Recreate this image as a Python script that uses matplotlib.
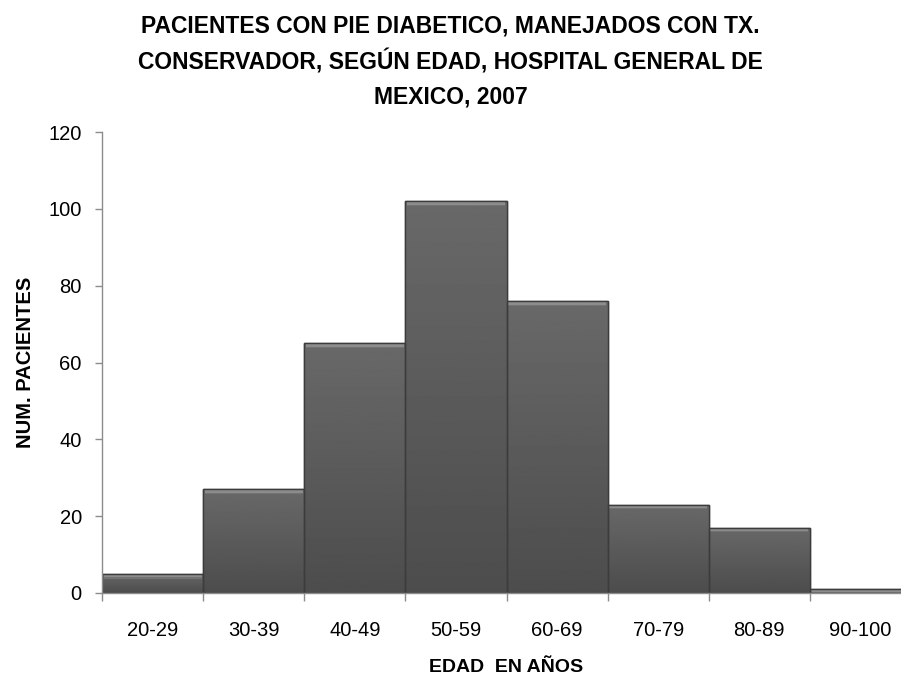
import numpy as np
import matplotlib
matplotlib.use("Agg")
import matplotlib.pyplot as plt
from matplotlib import font_manager

categories = ["20-29", "30-39", "40-49", "50-59", "60-69", "70-79", "80-89", "90-100"]
pacientes = [5, 27, 65, 102, 76, 23, 17, 1]
yticks = [0, 20, 40, 60, 80, 100, 120]

title = ("PACIENTES CON PIE DIABETICO, MANEJADOS CON TX.\n"
         "CONSERVADOR, SEGÚN EDAD, HOSPITAL GENERAL DE\n"
         "MEXICO, 2007")

names = {f.name for f in font_manager.fontManager.ttflist}
base = "Liberation Sans" if "Liberation Sans" in names else "DejaVu Sans"
plt.rcParams["font.family"] = [base, "DejaVu Sans"]

fig = plt.figure(figsize=(9.01, 6.81), dpi=100)
ax = fig.add_axes([102 / 901, 88 / 681, 809 / 901, 461 / 681])

x = np.arange(len(categories))
bars = ax.bar(x, pacientes, width=1.0, color="#5c5c5c", edgecolor="#3c3c3c",
              linewidth=1.0, zorder=2)

# vertical shading inside each bar (lighter at top, darker at bottom)
grad = np.linspace(0.41, 0.30, 256).reshape(-1, 1)
for b, v in zip(bars, pacientes):
    im = ax.imshow(grad, cmap="gray", vmin=0, vmax=1, aspect="auto",
                   extent=[b.get_x(), b.get_x() + b.get_width(), 0, v],
                   origin="upper", zorder=2.1)
    im.set_clip_path(b)

# bevelled highlight along the top of each bar
px = 120 / 461.0
for xi, v in zip(x, pacientes):
    h = min(3.0 * px, v * 0.6)
    ax.bar(xi, h, bottom=v - h - 0.8 * px, width=0.97, color="#8c8c8c",
           linewidth=0, zorder=2.2)
    ax.bar(xi, 1.2 * px, bottom=v - h - 1.8 * px, width=0.97, color="#727272",
           linewidth=0, zorder=2.2)
# bar outlines on top of the shading
ax.bar(x, pacientes, width=1.0, facecolor="none", edgecolor="#3c3c3c",
       linewidth=1.0, zorder=2.3)

ax.set_xlim(-0.5, len(categories) - 0.5)
ax.set_ylim(0, 120)
ax.set_yticks(yticks)
ax.set_yticklabels([str(t) for t in yticks], fontsize=14.5)
ax.set_xticks(x)
ax.set_xticklabels(categories, fontsize=14.5)
ax.tick_params(axis="x", length=0, pad=20)
ax.set_xticks(np.arange(len(categories) + 1) - 0.5, minor=True)
ax.tick_params(axis="x", which="minor", length=6, color="#8c8c8c", width=1)
ax.tick_params(axis="y", length=5, color="#8c8c8c", width=1, pad=9.5)

for s in ["top", "right"]:
    ax.spines[s].set_visible(False)
for s in ["left", "bottom"]:
    ax.spines[s].set_color("#8c8c8c")
    ax.spines[s].set_linewidth(1.0)
ax.spines["bottom"].set_zorder(3)

ax.set_xlabel("EDAD  EN AÑOS", fontsize=14, fontweight="bold", labelpad=14)
ax.set_ylabel("NUM. PACIENTES", fontsize=14.5, fontweight="bold", labelpad=10)

fig.text(0.5, 0.979, title, ha="center", va="top", fontsize=16.5,
         fontweight="bold", linespacing=1.6)

fig.savefig("out.png", dpi=100)
